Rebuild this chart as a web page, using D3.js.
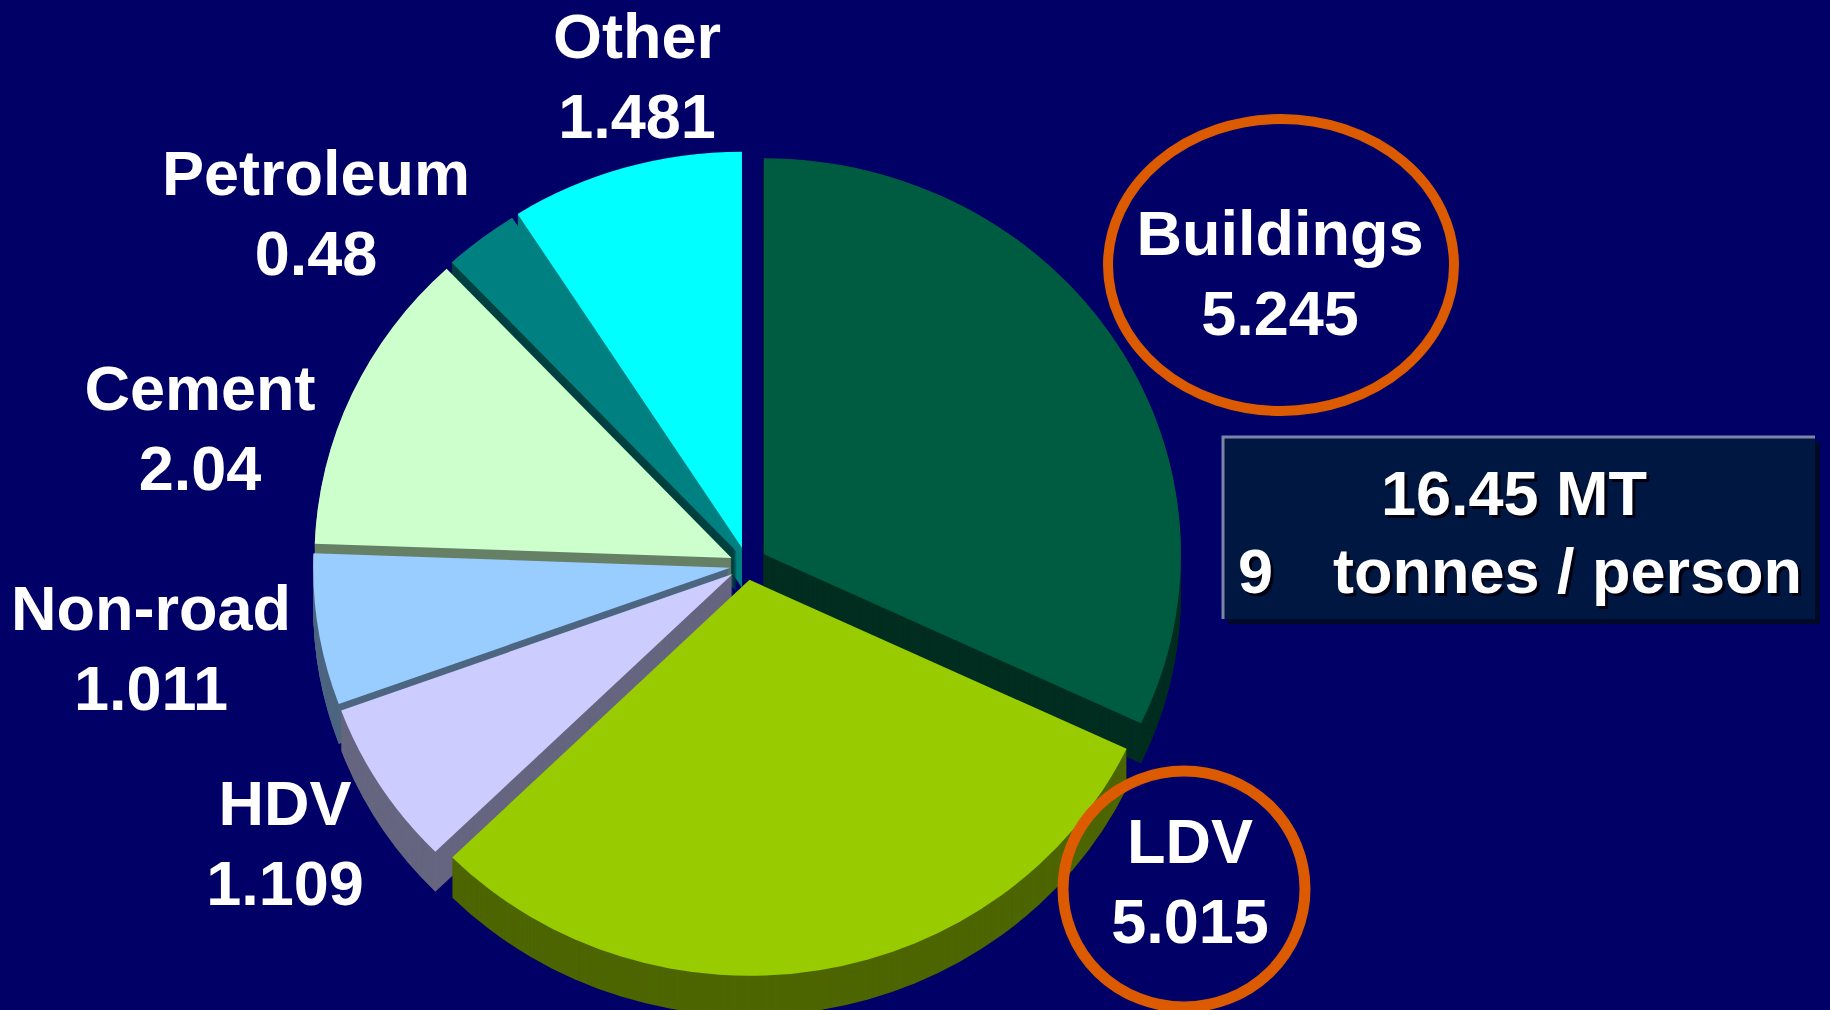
<!DOCTYPE html>
<html>
<head>
<meta charset="utf-8">
<script src="https://cdn.jsdelivr.net/npm/d3@7"></script>
<style>
  body { margin: 0; background: #000066; }
  svg { display: block; }
  text { font-family: "Liberation Sans", Arial, sans-serif; font-weight: bold; }
</style>
</head>
<body>
<div id="chart"></div>
<script>
// data
const sectors = ["Buildings", "LDV", "HDV", "Non-road", "Cement", "Petroleum", "Other"];
const values = [5.245, 5.015, 1.109, 1.011, 2.04, 0.48, 1.481];
const valueLabels = ["5.245", "5.015", "1.109", "1.011", "2.04", "0.48", "1.481"];
const totalLines = ["16.45 MT", "tonnes / person"];
const perPerson = "9";

// styling
const topColors = ["#005c40", "#99cc00", "#ccccff", "#99ccff", "#ccffcc", "#008080", "#00ffff"];
const explode = [20, 15, 17, 17, 17, 17, 18];
const highlighted = ["Buildings", "LDV"];
// label anchors (centre x, first baseline)
const labelAt = [[1280, 255], [1190, 863], [285, 825], [151, 630], [200, 410], [316, 195], [637, 58]];

const width = 1830, height = 1010;
const cx = 747, cy = 565, rx = 417, ry = 396, depth = 40;

const svg = d3.select("#chart")
    .append("svg")
    .attr("width", width)
    .attr("height", height);

svg.append("rect")
    .attr("width", width)
    .attr("height", height)
    .attr("fill", "#000066");

const pie = d3.pie().sort(null).value(d => d);
const arcs = pie(values);
const arc = d3.arc().innerRadius(0).outerRadius(ry);

// exploded centre of each slice
const centres = arcs.map((a, i) => {
    const mid = (a.startAngle + a.endAngle) / 2;
    return [cx + explode[i] * Math.sin(mid), cy - explode[i] * Math.cos(mid)];
});

// sides, back slices first
const order = d3.range(arcs.length).sort((a, b) => {
    const ma = (arcs[a].startAngle + arcs[a].endAngle) / 2;
    const mb = (arcs[b].startAngle + arcs[b].endAngle) / 2;
    return -Math.cos(ma) - -Math.cos(mb);
});

const sides = svg.append("g");
order.forEach(i => {
    const side = d3.color(topColors[i]).darker(2.0);
    const c = d3.rgb(topColors[i]);
    const sc = d3.rgb(c.r * 0.5, c.g * 0.5, c.b * 0.5);
    const g = sides.append("g");
    for (let k = depth; k >= 1; k--) {
        g.append("path")
            .attr("d", arc(arcs[i]))
            .attr("fill", sc)
            .attr("transform", `translate(${centres[i][0]},${centres[i][1] + k}) scale(${rx / ry},1)`);
    }
});

// top faces
svg.append("g")
    .selectAll("path")
    .data(arcs)
    .join("path")
    .attr("d", arc)
    .attr("fill", (d, i) => topColors[i])
    .attr("transform", (d, i) => `translate(${centres[i][0]},${centres[i][1]}) scale(${rx / ry},1)`);

// labels
const labels = svg.append("g")
    .attr("fill", "white")
    .attr("font-size", 63)
    .attr("text-anchor", "middle");

sectors.forEach((s, i) => {
    const [x, y] = labelAt[i];
    labels.append("text").attr("x", x).attr("y", y).text(s);
    labels.append("text").attr("x", x).attr("y", y + 80).text(valueLabels[i]);
});

// orange rings round the two big sectors
const rings = [{ name: "Buildings", rx: 173, ry: 146, dx: 1, dy: -6, w: 10 },
               { name: "LDV", rx: 121, ry: 118, dx: -6, dy: 10, w: 11 }];
rings.forEach(r => {
    const i = sectors.indexOf(r.name);
    if (highlighted.indexOf(r.name) < 0) return;
    const [x, y] = labelAt[i];
    svg.append("ellipse")
        .attr("cx", x + r.dx)
        .attr("cy", y + 16 + r.dy)
        .attr("rx", r.rx)
        .attr("ry", r.ry)
        .attr("fill", "none")
        .attr("stroke", "#dc5a00")
        .attr("stroke-width", r.w);
});

// total box
const box = svg.append("g").attr("transform", "translate(1223,437)");
const bw = 592, bh = 182;
box.append("rect").attr("x", 5).attr("y", 5).attr("width", bw).attr("height", bh).attr("fill", "#000a26");
box.append("rect").attr("width", bw).attr("height", bh).attr("fill", "#001742");
box.append("path")
    .attr("d", `M0,${bh} V0 H${bw}`)
    .attr("fill", "none")
    .attr("stroke", "#7c84a8")
    .attr("stroke-width", 3);

const boxText = [
    { t: totalLines[0], x: 291, y: 78, anchor: "middle" },
    { t: perPerson, x: 15, y: 156, anchor: "start" },
    { t: totalLines[1], x: 110, y: 156, anchor: "start" }
];
boxText.forEach(b => {
    box.append("text").attr("x", b.x + 3).attr("y", b.y + 3)
        .attr("font-size", 63).attr("text-anchor", b.anchor).attr("fill", "#000010").text(b.t);
    box.append("text").attr("x", b.x).attr("y", b.y)
        .attr("font-size", 63).attr("text-anchor", b.anchor).attr("fill", "white").text(b.t);
});
</script>
</body>
</html>
